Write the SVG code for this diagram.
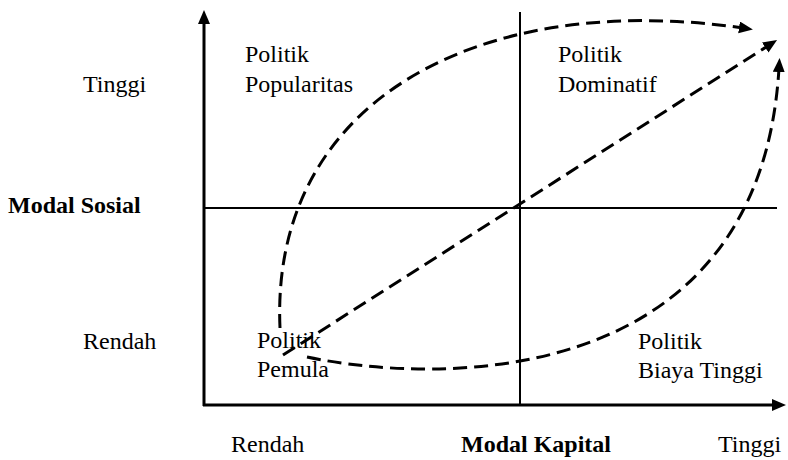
<svg xmlns="http://www.w3.org/2000/svg" width="788" height="460" viewBox="0 0 788 460" font-family="Liberation Serif">
<defs>
<marker id="ah" markerUnits="userSpaceOnUse" markerWidth="16" markerHeight="14" refX="4" refY="6" orient="auto">
<path d="M0,0 L14,6 L0,12 z" fill="#000"/>
</marker>
</defs>
<rect width="788" height="460" fill="#fff"/>
<g id="axes" stroke="#000" fill="none">
<line x1="204" y1="406" x2="204" y2="20" stroke-width="3" marker-end="url(#ah)"/>
<line x1="203" y1="405" x2="776" y2="405" stroke-width="3" marker-end="url(#ah)"/>
<line x1="520" y1="12" x2="520" y2="405" stroke-width="2"/>
<line x1="204" y1="208" x2="777" y2="208" stroke-width="2"/>
</g>
<g id="axis-labels">
<text x="83" y="92" font-size="24" font-family="Liberation Serif">Tinggi</text>
<text x="8" y="213" font-size="24" font-weight="bold" font-family="Liberation Serif">Modal Sosial</text>
<text x="83" y="349" font-size="24" font-family="Liberation Serif">Rendah</text>
<text x="231" y="452" font-size="24" font-family="Liberation Serif">Rendah</text>
<text x="461" y="452" font-size="24" font-weight="bold" font-family="Liberation Serif">Modal Kapital</text>
<text x="718" y="452" font-size="24" font-family="Liberation Serif">Tinggi</text>
</g>
<g id="node-popularitas">
<text x="245" y="62" font-size="24" font-family="Liberation Serif">Politik</text>
<text x="245" y="92" font-size="24" font-family="Liberation Serif">Popularitas</text>
</g>
<g id="node-dominatif">
<text x="558" y="62" font-size="24" font-family="Liberation Serif">Politik</text>
<text x="558" y="92" font-size="24" font-family="Liberation Serif">Dominatif</text>
</g>
<g id="node-pemula">
<text x="257" y="348" font-size="24" font-family="Liberation Serif">Politik</text>
<text x="257" y="377" font-size="24" font-family="Liberation Serif">Pemula</text>
</g>
<g id="node-biaya">
<text x="638" y="349" font-size="24" font-family="Liberation Serif">Politik</text>
<text x="638" y="378" font-size="24" font-family="Liberation Serif">Biaya Tinggi</text>
</g>
<g id="connectors" stroke="#000" stroke-width="3" fill="none" stroke-dasharray="14 7">
<path d="M280,328 C270,100 480,-10 743,28" marker-end="url(#ah)"/>
<path d="M283,355 L768.6,45.4" marker-end="url(#ah)"/>
<path d="M307,357 C440,385 760,390 779,68" marker-end="url(#ah)"/>
</g>
</svg>
